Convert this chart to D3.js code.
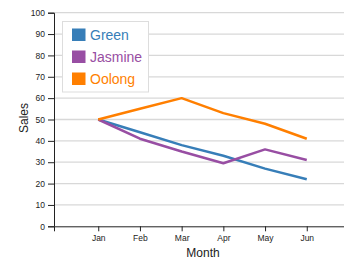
<!DOCTYPE html>
<html><head><meta charset="utf-8">
<script src="https://cdn.jsdelivr.net/npm/d3@7"></script>
<style>
body{margin:0;background:#fff;}
svg{display:block;font-family:"Liberation Sans",Arial,sans-serif;}
</style></head>
<body><svg id="c" width="344" height="264"></svg>
<script>
const months = ["Jan","Feb","Mar","Apr","May","Jun"];
const seriesNames = ["Green","Jasmine","Oolong"];
const green = [50,44,38,33,27,22];
const jasmine = [50,41,35,29.5,36,31];
const oolong = [50,55,60,53,48,41];
const colors = ["#377eb8","#984ea3","#ff7f00"];
const yTicks = [0,10,20,30,40,50,60,70,80,90,100];

const svg = d3.select("#c");
const mLeft = 54, mTop = 12.7, mBottom = 226.3, mRight = 351;
const x = d3.scalePoint().domain(months).range([mLeft, mRight]).padding(1.061);
const y = d3.scaleLinear().domain([0,100]).range([mBottom, mTop]);

// grid
svg.append("g").selectAll("line").data(yTicks.filter(d=>d>0)).join("line")
  .attr("x1", mLeft).attr("x2", 344)
  .attr("y1", d=>y(d)).attr("y2", d=>y(d))
  .attr("stroke","#d8d8d8").attr("stroke-width",1.3);

const xa = svg.append("g").attr("transform",`translate(0,${mBottom})`)
  .call(d3.axisBottom(x).tickSize(5).tickPadding(3.5));
xa.selectAll("text").attr("font-size",8.5).attr("fill","#222").attr("font-family","Liberation Sans, Arial, sans-serif");
xa.select(".domain").attr("stroke","#222");
xa.selectAll(".tick line").attr("stroke","#222");

const ya = svg.append("g").attr("transform",`translate(${mLeft},0)`)
  .call(d3.axisLeft(y).tickValues(yTicks).tickSize(6).tickPadding(3));
ya.selectAll("text").attr("font-size",8.5).attr("fill","#222").attr("font-family","Liberation Sans, Arial, sans-serif");
ya.select(".domain").attr("stroke","#222");
ya.selectAll(".tick line").attr("stroke","#222");

svg.append("text").attr("x",203).attr("y",257).attr("text-anchor","middle")
  .attr("font-size",12).attr("fill","#222").text("Month");
svg.append("text").attr("transform","translate(28,118) rotate(-90)").attr("text-anchor","middle")
  .attr("font-size",12).attr("fill","#222").text("Sales");

const data = [green, jasmine, oolong];
const line = d3.line().x((d,i)=>x(months[i])).y(d=>y(d));
svg.append("g").selectAll("path").data(data).join("path")
  .attr("d", line).attr("fill","none")
  .attr("stroke",(d,i)=>colors[i]).attr("stroke-width",2.5)
  .attr("stroke-linejoin","round");

// legend
const lg = svg.append("g");
lg.append("rect").attr("x",62.5).attr("y",21.5).attr("width",86).attr("height",70.5)
  .attr("fill","#fff").attr("stroke","#ddd").attr("stroke-width",1);
const rows = lg.selectAll("g").data(seriesNames).join("g")
  .attr("transform",(d,i)=>`translate(72,${28.5 + i*22})`);
rows.append("rect").attr("width",13.5).attr("height",12.5).attr("fill",(d,i)=>colors[i]);
rows.append("text").attr("x",18).attr("y",6.5).attr("dominant-baseline","central")
  .attr("font-size",14).attr("fill",(d,i)=>colors[i]).text(d=>d);
</script></body></html>
